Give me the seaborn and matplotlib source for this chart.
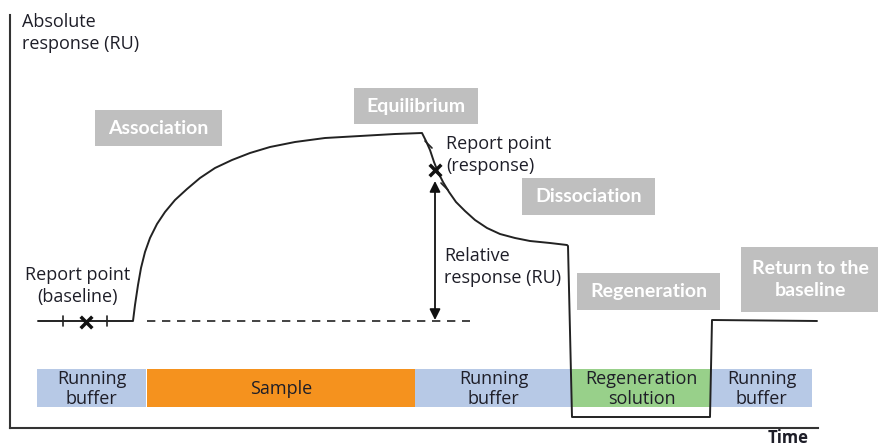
import matplotlib
matplotlib.use("Agg")
import matplotlib.pyplot as plt
import matplotlib.patches as mpatches
import seaborn as sns
import pandas as pd

sns.set_theme(style="white")
plt.rcParams['font.family'] = ['Open Sans', 'DejaVu Sans']

# ---- data (time, absolute response) ----
time = [28, 123, 125, 128, 131, 135, 140, 147, 155, 165, 177, 190, 205, 222,
        240, 260, 285, 315, 350, 385, 412,
        416, 420, 424, 428, 433, 439, 446, 455, 465, 477, 490, 505, 520, 540,
        557, 558, 562, 700, 702, 807]
response = [107, 107, 123, 143, 160, 176, 190, 204, 216, 228, 239, 250, 260, 268,
            275, 281, 286, 290, 292, 294, 295,
            287, 278, 266, 256, 246, 236, 226, 217, 208, 200, 194, 190, 187, 185,
            183, 182, 11, 11, 108, 107]

phase_names = ["Running\nbuffer", "Sample", "Running\nbuffer", "Regeneration\nsolution", "Running\nbuffer"]
phase_start = [27, 137, 405, 562, 701]
phase_end = [136, 405, 562, 701, 802]
phase_colors = ["#b7c9e6", "#f5921e", "#b7c9e6", "#98d08a", "#b7c9e6"]

stage_names = ["Association", "Equilibrium", "Dissociation", "Regeneration", "Return to the\nbaseline"]

baseline_level = 107
report_baseline = (76, 106)
report_response = (425, 258)

W, H = 879, 447
fig = plt.figure(figsize=(W / 100, H / 100), dpi=100)
ax = fig.add_axes([10 / W, 19 / H, 869 / W, 428 / H])
ax.set_xlim(0, 869)
ax.set_ylim(0, 428)
ax.set_xticks([])
ax.set_yticks([])
for s in ["top", "right"]:
    ax.spines[s].set_visible(False)
for s in ["left", "bottom"]:
    ax.spines[s].set_color("#333333")
    ax.spines[s].set_linewidth(1.5)
ax.spines["left"].set_bounds(0, 413)
ax.spines["bottom"].set_bounds(0, 808)

df = pd.DataFrame({"time": time, "response": response})
sns.lineplot(data=df, x="time", y="response", sort=False, estimator=None,
             color="#222222", linewidth=1.4, ax=ax)
ax.set_xlabel("")
ax.set_ylabel("")

TXT = "#1e1e28"

# phase bars
for name, s, e, c in zip(phase_names, phase_start, phase_end, phase_colors):
    ax.barh(y=40, width=e - s, left=s, height=38, color=c, edgecolor="none", zorder=1)
    ax.text((s + e) / 2, 39, name, ha="center", va="center", fontsize=13,
            color=TXT, linespacing=1.12, zorder=3)

# dashed baseline extension
ax.plot([137, 460], [baseline_level, baseline_level], color="#222222",
        linewidth=1.2, linestyle=(0, (5, 4)))

# report point markers
ax.scatter([report_baseline[0]], [report_baseline[1]], marker="x", s=70,
           color="#111111", linewidths=2.5, zorder=4)
ax.scatter([report_response[0]], [report_response[1]], marker="x", s=70,
           color="#111111", linewidths=2.5, zorder=4)
for tx in [53, 97]:
    ax.plot([tx, tx], [baseline_level - 5, baseline_level + 5], color="#222222", linewidth=1.2)
ax.plot([415, 422], [287, 280], color="#222222", linewidth=1.2)
ax.plot([431, 438], [245, 238], color="#222222", linewidth=1.2)

# relative response double arrow
ax.annotate("", xy=(425, 247), xytext=(425, 108),
            arrowprops=dict(arrowstyle="<|-|>", color="#111111", lw=1.3,
                            mutation_scale=16, shrinkA=0, shrinkB=0))

# grey stage boxes (pixel boxes -> data)
def px(x):
    return x - 10

def py(y):
    return 428 - y

boxes = [(95, 110, 222, 146), (354, 88, 478, 124), (522, 178, 655, 215),
         (577, 273, 720, 310), (741, 247, 879, 312)]
for name, (x0, y0, x1, y1) in zip(stage_names, boxes):
    r = mpatches.Rectangle((px(x0), py(y1)), x1 - x0, y1 - y0, facecolor="#bfbfbf",
                           edgecolor="none", clip_on=False, zorder=2)
    ax.add_patch(r)
    ax.text(px((x0 + x1) / 2), py((y0 + y1) / 2), name, ha="center", va="center",
            fontsize=14, fontweight="bold", color="white", linespacing=1.35,
            family=["Lato", "DejaVu Sans"], clip_on=False, zorder=3)

# dark text labels
def ftext(x, y, s, **kw):
    fig.text(x / W, 1 - y / H, s, **kw)

lab = dict(fontsize=13, color=TXT, linespacing=1.22)
ftext(22, 33, "Absolute\nresponse (RU)", ha="left", va="center", **lab)
ftext(78, 286, "Report point\n(baseline)", ha="center", va="center", **lab)
ftext(446, 155, "Report point\n(response)", ha="left", va="center", **lab)
ftext(444, 267, "Relative\nresponse (RU)", ha="left", va="center", **lab)
ftext(788, 438, "Time", ha="center", va="center", fontsize=12, color=TXT,
      fontweight="bold")

fig.savefig("out.png", dpi=100)
